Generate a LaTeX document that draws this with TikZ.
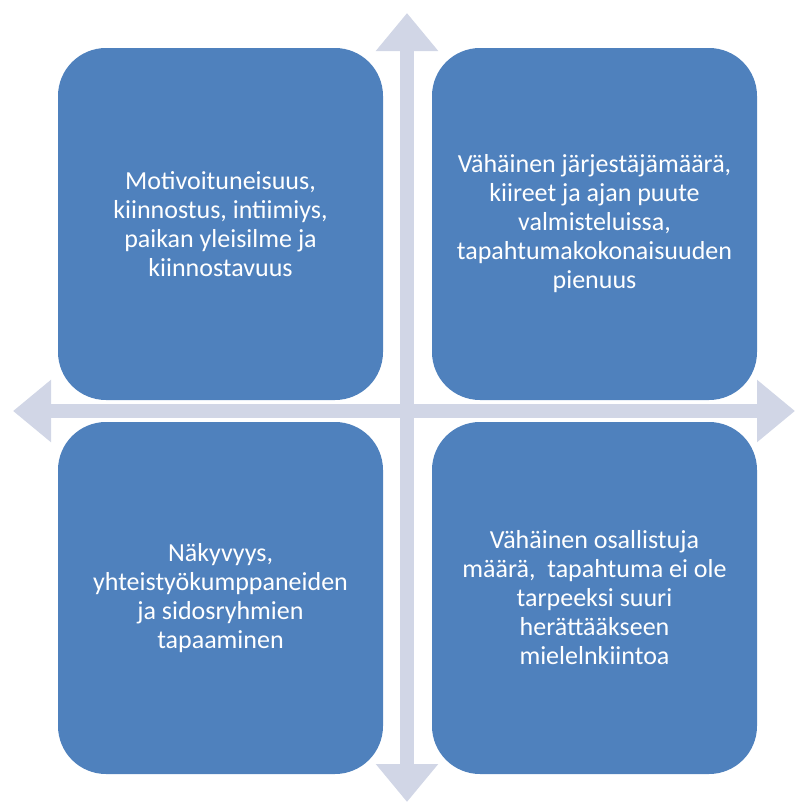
\documentclass[tikz,border=0pt]{standalone}
\usepackage{fontspec}
\setmainfont{Carlito}
\usetikzlibrary{positioning,arrows.meta}
\definecolor{quadblue}{RGB}{79,129,189}
\definecolor{axisgray}{RGB}{209,214,230}

\begin{document}
\begin{tikzpicture}[x=1pt, y=-1pt, node distance=22pt and 49pt,
    quad/.style={rectangle, fill=quadblue, text=white, align=center, rounded corners=48pt, minimum width=325pt, minimum height=352pt, inner sep=0pt, outer sep=0pt, font=\fontsize{26}{29}\selectfont},
    axis/.style={axisgray, line width=14pt, {Triangle[length=38pt,width=60pt]}-{Triangle[length=38pt,width=60pt]}}]
    \useasboundingbox (0,0) rectangle (795,803);
    % axes of the cross
    \coordinate (top) at (407,13);
    \coordinate (bottom) at (407,802);
    \coordinate (left) at (13,411);
    \coordinate (right) at (795,411);
    \draw[axis] (top) -- (bottom);
    \draw[axis] (left) -- (right);

    \node [quad] (strengths) at (220.5,224) {Motivoituneisuus,\\kiinnostus, intiimiys,\\paikan yleisilme ja\\kiinnostavuus};
    \node [quad, right=of strengths] (weaknesses) {Vähäinen järjestäjämäärä,\\kiireet ja ajan puute\\valmisteluissa,\\tapahtumakokonaisuuden\\pienuus};
    \node [quad, below=of strengths] (opportunities) {Näkyvyys,\\yhteistyökumppaneiden\\ja sidosryhmien\\tapaaminen};
    \node [quad, below=of weaknesses] (threats) {Vähäinen osallistuja\\määrä,~ tapahtuma ei ole\\tarpeeksi suuri\\herättääkseen\\mielelnkiintoa};
\end{tikzpicture}
\end{document}
